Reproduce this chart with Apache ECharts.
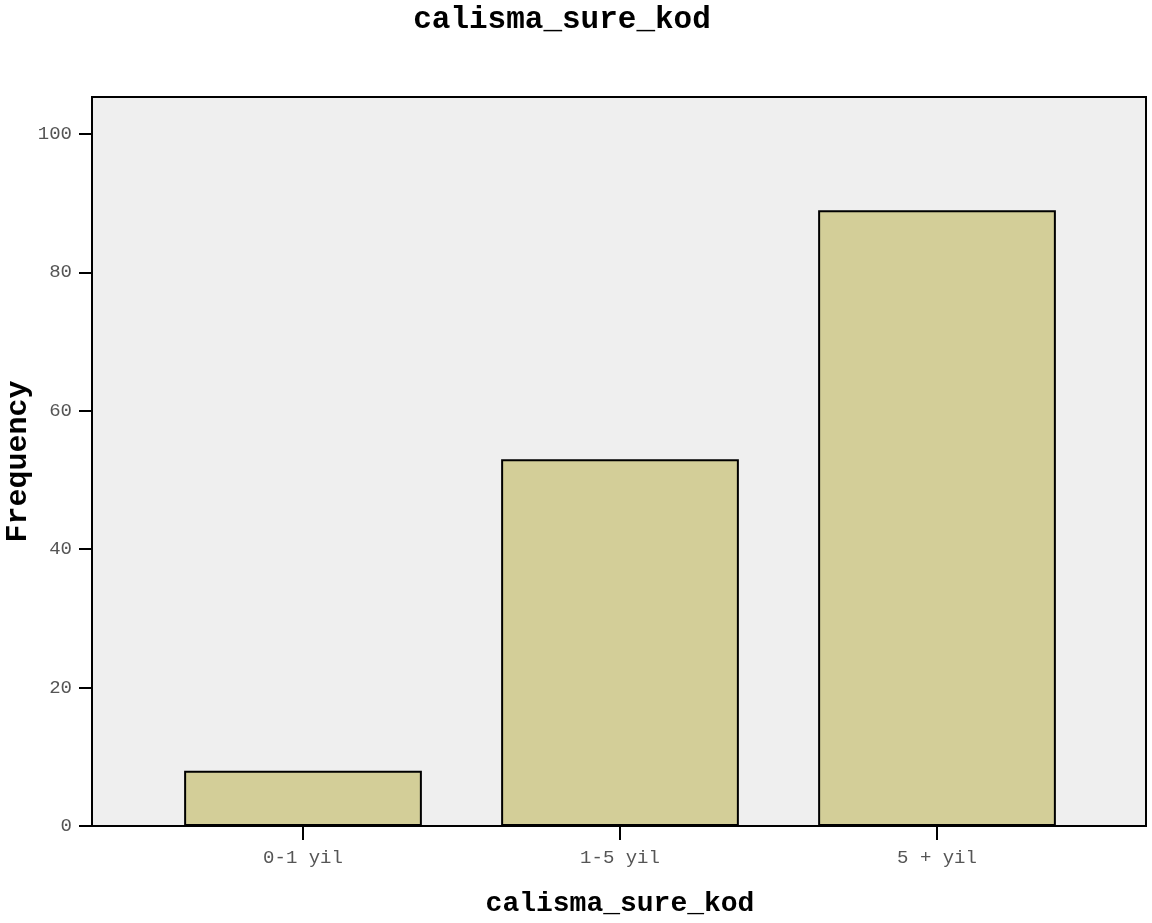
<!DOCTYPE html>
<html>
<head>
<meta charset="utf-8">
<script src="https://cdn.jsdelivr.net/npm/echarts@6/dist/echarts.min.js"></script>
<style>html,body{margin:0;padding:0;background:#fff}#c{width:1152px;height:923px}</style>
</head>
<body>
<div id="c"></div>
<script>
var categories = ['0-1 yil', '1-5 yil', '5 + yil'];
var frequency = [8, 53, 89];
var yTicks = [0, 20, 40, 60, 80, 100];
var titleText = 'calisma_sure_kod';
var xName = 'calisma_sure_kod';
var yName = 'Frequency';

var chart = echarts.init(document.getElementById('c'), null, {renderer: 'canvas'});
var mono = '"Liberation Mono", "Courier New", monospace';
var option = {
  animation: false,
  title: {
    text: titleText, left: 557, top: 0, textAlign: 'center',
    textStyle: {fontFamily: mono, fontWeight: 'bold', fontSize: 31, color: '#000'}
  },
  grid: [
    {left: 92, top: 97, width: 1054, height: 729, show: true, backgroundColor: '#efefef', borderColor: '#000', borderWidth: 2, containLabel: false, outerBoundsMode: 'none'},
    {left: 144.5, top: 97, width: 951, height: 729, show: false, containLabel: false, outerBoundsMode: 'none'}
  ],
  xAxis: [
    {type: 'value', gridIndex: 0, min: 0, max: 1, show: false},
    {type: 'category', gridIndex: 1, data: categories,
     axisLine: {show: false},
     axisTick: {show: true, alignWithLabel: true, length: 14, lineStyle: {color: '#000', width: 2}},
     axisLabel: {margin: 22, fontFamily: mono, fontSize: 19, color: '#555'},
     name: xName, nameLocation: 'middle', nameGap: 64, nameMoveOverlap: false,
     nameTextStyle: {fontFamily: mono, fontWeight: 'bold', fontSize: 28, color: '#000'}
    }
  ],
  yAxis: [
    {type: 'value', gridIndex: 0, min: 0, max: 105.35,
     axisLine: {show: false}, splitLine: {show: false},
     axisTick: {show: true, length: 13, customValues: yTicks, lineStyle: {color: '#000', width: 2}},
     axisLabel: {margin: 20, fontFamily: mono, fontSize: 19, color: '#555', customValues: yTicks},
     name: yName, nameLocation: 'middle', nameGap: 59, nameRotate: 90, nameMoveOverlap: false,
     nameTextStyle: {fontFamily: mono, fontWeight: 'bold', fontSize: 30, color: '#000'}
    },
    {type: 'value', gridIndex: 1, min: 0, max: 105.35, show: false}
  ],
  series: [{
    type: 'bar', xAxisIndex: 1, yAxisIndex: 1, data: frequency, barWidth: '75%',
    itemStyle: {color: '#d3ce98', borderColor: '#000', borderWidth: 2}
  }]
};
chart.setOption(option);
</script>
</body>
</html>
